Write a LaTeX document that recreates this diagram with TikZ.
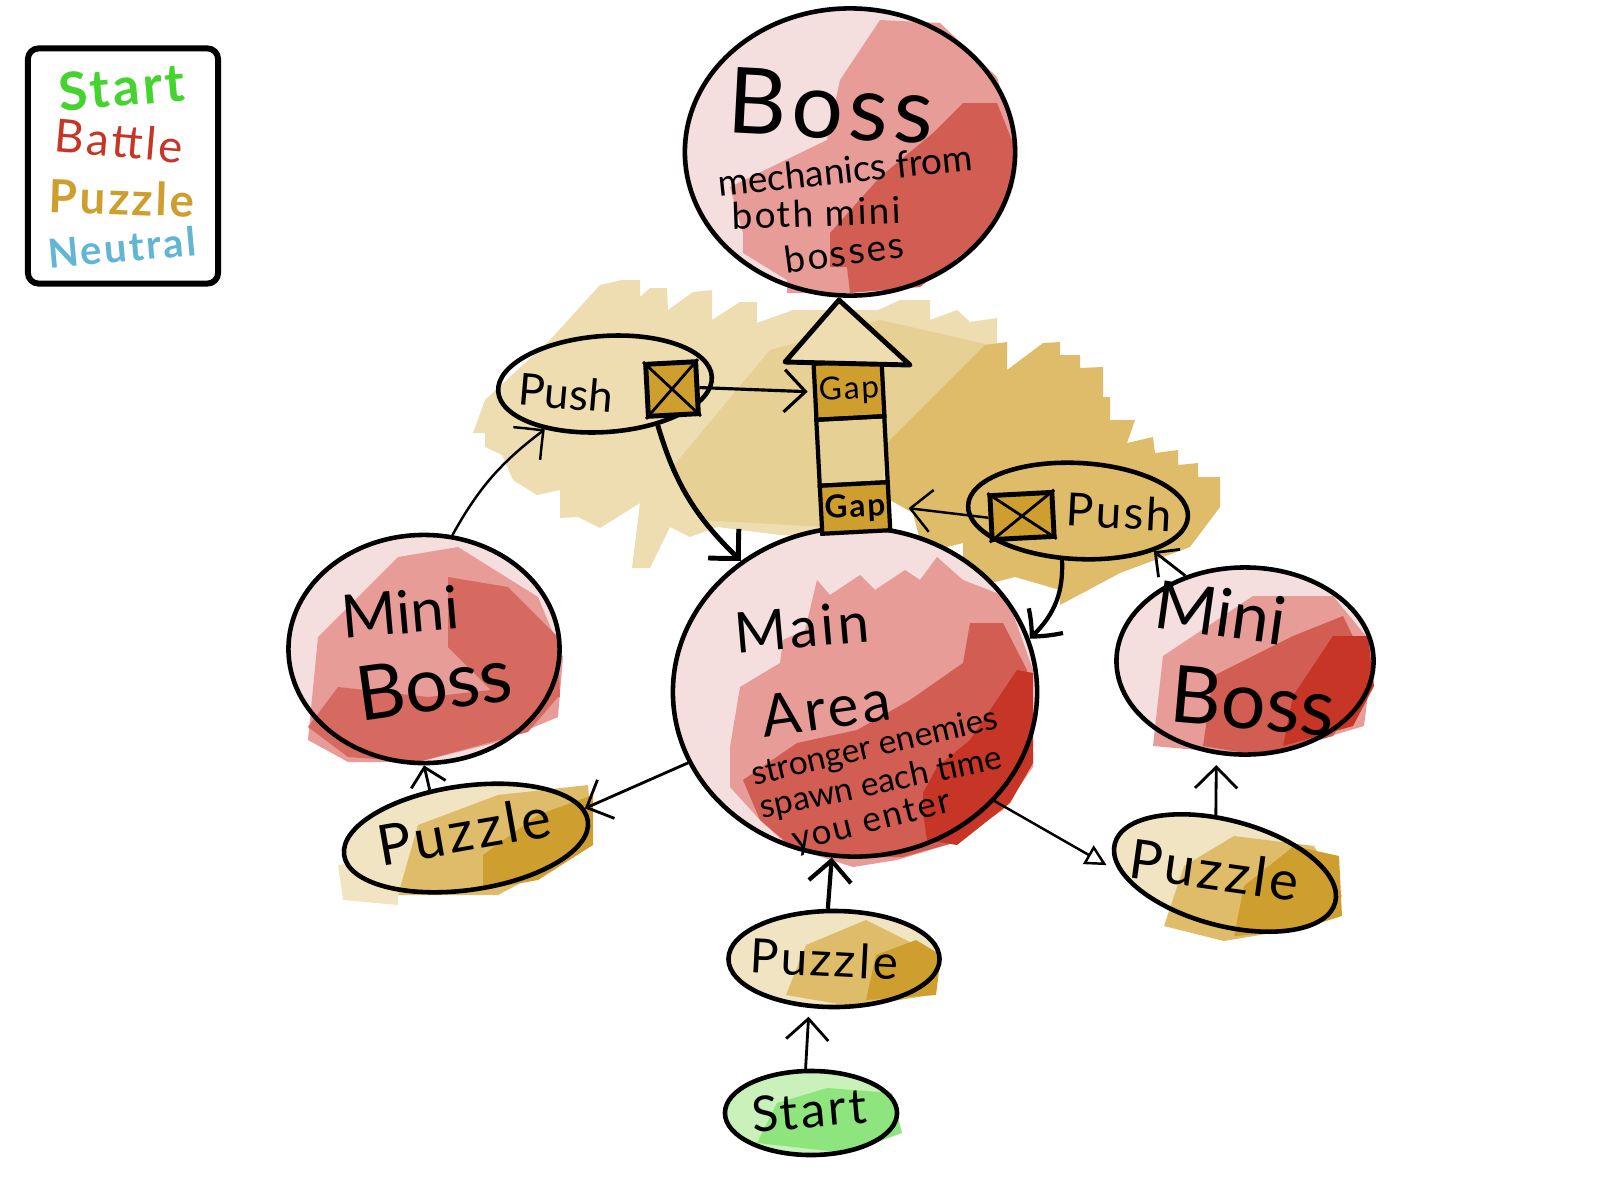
\documentclass[tikz,border=0pt]{standalone}
\usepackage{fontspec}
\setmainfont[LetterSpace=6]{Lato}
\usetikzlibrary{arrows.meta,shapes.geometric,bending}
\definecolor{tanlight}{HTML}{EDDDB0}
\definecolor{tanmid}{HTML}{E7D094}
\definecolor{tandark}{HTML}{DFBC6A}
\definecolor{gold}{HTML}{CE9F2E}
\definecolor{goldbase}{HTML}{F1E4C2}
\definecolor{redbase}{HTML}{F5DEDE}
\definecolor{redmid}{HTML}{E79C98}
\definecolor{reddark}{HTML}{D25D52}
\definecolor{redfull}{HTML}{C63526}
\definecolor{greenbase}{HTML}{C9F1B9}
\definecolor{greenmid}{HTML}{8FE57D}
\newcommand{\handsize}[1]{\fontsize{#1}{#1}\selectfont}
\newcommand{\tightsize}[1]{\fontsize{#1}{#1}\selectfont\addfontfeature{LetterSpace=0}}
\tikzset{
 blob/.style={ellipse,draw,line width=1.3pt,inner sep=0pt},
 lbl/.style={inner sep=0pt,text=black},
 secbox/.style={rectangle,draw,line width=1.2pt,inner sep=0pt,rotate=3},
 xbox/.style={rectangle,draw,line width=1.4pt,fill=gold,inner sep=0pt},
 flow/.style={->,line width=1.2pt},
 thinflow/.style={->,line width=0.7pt},
 >={Straight Barb[length=6pt,width=12pt,bend]}
}
\begin{document}
\begin{tikzpicture}[x=0.01cm,y=-0.01cm]
 \useasboundingbox (0,0) rectangle (1600,1200);

 \fill[tanlight](473,433)--(485,400)--(550,340)--(600,285)--(622,280)--(640,280)--(640,297)--(650,288)--(667,288)--(668,310)--(693,292)--(712,290)--(712,320)--(740,302)--(757,302)--(757,323)--(793,310)--(878,310)--(900,300)--(930,300)--(930,320)--(957,310)--(970,322)--(997,318)--(997,345)--(960,395)--(900,450)--(880,540)--(780,535)--(717,527)--(690,537)--(670,527)--(650,568)--(632,568)--(640,503)--(600,528)--(578,517)--(560,518)--(560,490)--(537,495)--(513,480)--(502,455)--(485,447)--(485,433)--cycle;
 \fill[tanmid](700,520)--(670,470)--(770,350)--(880,320)--(990,345)--(885,450)--(880,530)--cycle;
 \fill[tandark](890,500)--(885,445)--(985,345)--(1007,342)--(1007,370)--(1043,343)--(1060,342)--(1060,355)--(1080,355)--(1080,368)--(1103,367)--(1103,397)--(1110,397)--(1110,420)--(1135,420)--(1127,443)--(1153,437)--(1155,453)--(1178,450)--(1178,465)--(1198,463)--(1198,477)--(1220,477)--(1220,507)--(1190,547)--(1120,573)--(1060,605)--(1060,590)--(1015,577)--(963,590)--(963,543)--(923,553)--(913,513)--cycle;

 \fill[redbase](850,152) ellipse (168 and 146);
 \fill[redmid](743,233)--(730,187)--(827,140)--(840,80)--(880,20)--(940,23)--(997,77)--(1013,133)--(1013,183)--(980,240)--(913,287)--(847,293)--(787,293)--(787,280)--(743,253)--cycle;
 \fill[reddark](830,267)--(830,233)--(880,177)--(933,133)--(963,103)--(997,103)--(1013,143)--(1013,187)--(980,240)--(920,287)--(850,293)--(847,267)--cycle;

 \fill[redbase](855,692) ellipse (182 and 165);
 \fill[redmid](730,747)--(740,687)--(780,663)--(783,640)--(805,630)--(817,580)--(830,595)--(860,575)--(875,590)--(905,570)--(920,580)--(937,557)--(963,580)--(1007,597)--(1033,670)--(1033,767)--(1003,810)--(953,843)--(897,860)--(853,867)--(790,847)--(760,820)--(730,787)--cycle;
 \fill[reddark](760,820)--(743,780)--(797,743)--(857,730)--(910,700)--(963,663)--(970,623)--(1003,623)--(1027,670)--(1033,753)--(1003,807)--(953,843)--(903,857)--(837,857)--(787,843)--cycle;
 \fill[redfull](923,813)--(923,793)--(937,767)--(970,740)--(1017,670)--(1033,673)--(1033,763)--(1010,803)--(957,845)--(927,840)--cycle;

 \fill[redbase](424,649) ellipse (136 and 114);
 \fill[redmid](308,740)--(318,637)--(398,557)--(458,547)--(538,597)--(563,657)--(558,717)--(498,742)--(418,762)--(348,762)--cycle;
 \fill[reddark!80!redmid](448,647)--(448,577)--(508,587)--(558,637)--(560,697)--(498,697)--cycle;
 \fill[reddark!80!redmid](308,727)--(338,687)--(428,697)--(518,687)--(558,697)--(528,732)--(418,762)--(348,757)--cycle;

 \fill[redbase](1245,661) ellipse (129 and 94);
 \fill[redmid](1153,746)--(1163,656)--(1253,596)--(1333,596)--(1374,646)--(1364,726)--(1263,756)--cycle;
 \fill[reddark](1203,746)--(1213,676)--(1293,636)--(1343,616)--(1372,676)--(1333,736)--(1263,756)--cycle;
 \fill[redfull](1283,746)--(1293,696)--(1333,636)--(1368,636)--(1374,686)--(1353,726)--cycle;

 \fill[goldbase,rotate around={8:(466,838)}](466,838) ellipse (124 and 53);
 \fill[tandark](398,895)--(418,825)--(498,795)--(588,785)--(593,845)--(498,895)--cycle;
 \fill[gold](483,890)--(483,855)--(538,815)--(593,795)--(593,845)--(538,880)--cycle;
 \fill[goldbase](338,865)--(398,855)--(398,905)--(343,900)--cycle;

 \fill[goldbase](834,959) ellipse (106 and 48);
 \fill[tandark](786,995)--(806,945)--(866,920)--(936,955)--(931,995)--(856,1007)--cycle;
 \fill[gold](866,1000)--(876,955)--(916,940)--(941,955)--(936,995)--cycle;

 \fill[goldbase,rotate around={-15:(1225,873)}](1225,873) ellipse (114 and 53);
 \fill[tandark](1164,926)--(1184,866)--(1234,836)--(1314,846)--(1342,896)--(1314,926)--(1224,941)--cycle;
 \fill[gold](1234,936)--(1244,886)--(1294,846)--(1339,856)--(1342,916)--(1294,931)--cycle;

 \fill[greenbase](811,1113) ellipse (86 and 42);
 \fill[greenmid](757,1143)--(777,1103)--(827,1088)--(892,1093)--(902,1133)--(847,1153)--cycle;

 \node[blob,minimum width=3.3cm,minimum height=2.87cm] (boss) at (850,152) {};
 \node[blob,minimum width=3.64cm,minimum height=3.29cm] (mainarena) at (855,692) {};
 \node[blob,minimum width=2.71cm,minimum height=2.28cm] (minileft) at (424,649) {};
 \node[blob,minimum width=2.57cm,minimum height=1.87cm] (miniright) at (1245,661) {};
 \node[blob,minimum width=2.14cm,minimum height=0.96cm,rotate=4] (pushleft) at (605,384) {};
 \node[blob,minimum width=2.2cm,minimum height=0.96cm,rotate=-3] (pushright) at (1078,511) {};
 \node[blob,minimum width=2.46cm,minimum height=1.04cm,rotate=8] (puzzleleft) at (466,838) {};
 \node[blob,minimum width=2.11cm,minimum height=0.96cm] (puzzlemid) at (834,959) {};
 \node[blob,minimum width=2.28cm,minimum height=1.05cm,rotate=-15] (puzzleright) at (1225,873) {};
 \node[blob,minimum width=1.72cm,minimum height=0.84cm] (start) at (811,1113) {};
 \node[rectangle,draw,line width=1.7pt,rounded corners=3pt,minimum width=1.9cm,minimum height=2.35cm] (legend) at (123,166) {};

 \node[secbox,fill=gold,minimum width=0.68cm,minimum height=0.56cm] (gapa) at (849,390) {\handsize{9}Gap};
 \node[secbox,minimum width=0.68cm,minimum height=0.66cm] (gapmid) at (852,451) {};
 \node[secbox,fill=gold,minimum width=0.68cm,minimum height=0.48cm] (gapb) at (855,508) {\handsize{9}\bfseries Gap};
 \coordinate (headtip) at (839,300);
 \coordinate (headleft) at (785,362);
 \coordinate (headright) at (910,365);
 \draw[line width=1.4pt,line join=round,fill=tanlight] (headleft)--(headtip)--(headright)--cycle;

 \node[xbox,minimum width=0.5cm,minimum height=0.52cm,rotate=3] (pushboxa) at (672,389) {};
 \draw[line width=0.8pt] (pushboxa.north west)--(pushboxa.south east);
 \draw[line width=0.8pt] (pushboxa.north east)--(pushboxa.south west);
 \node[xbox,minimum width=0.62cm,minimum height=0.44cm,rotate=3] (pushboxb) at (1022,516) {};
 \draw[line width=0.8pt] (pushboxb.north west)--(pushboxb.south east);
 \draw[line width=0.8pt] (pushboxb.north east)--(pushboxb.south west);

 \draw[flow,line width=0.8pt,shorten >=2.5pt] (start.97)--(puzzlemid.243);
 \draw[flow] (puzzlemid.97)--(mainarena.262);
 \draw[flow,line width=0.8pt] (mainarena.203)--(puzzleleft.6);
 \draw[thinflow,-{Triangle[open,length=6pt,width=6pt]},shorten >=4.5pt] (mainarena.-38)--(puzzleright.195);
 \draw[flow,line width=0.8pt,-{Straight Barb[length=5pt,width=10pt]}] (puzzleleft.119)--(minileft.270);
 \draw[flow,line width=0.8pt,shorten >=3pt] (puzzleright.114)--(miniright.253);
 \draw[thinflow] (minileft.76) to[bend left=12] (pushleft.213);
 \draw[flow,line width=0.8pt,-{Straight Barb[length=5pt,width=10pt]}] (miniright.125)--(pushright.-25);
 \draw[flow,line width=1.4pt] (pushleft.-42) to[bend right=15] (mainarena.131);
 \draw[flow] (pushright.255) to[bend left=25] (mainarena.17);
 \draw[flow,line width=0.9pt,shorten >=1.5pt] (pushboxa.east)--(gapa.west);
 \draw[thinflow,shorten >=5pt] (pushboxb.west)--(gapb.east);

 \node[lbl,rotate=-3] (bosstitle) at (831,106) {\handsize{26}Boss};
 \node[lbl,rotate=6] (bossa) at (845,170) {\tightsize{10.5}mechanics from};
 \node[lbl,rotate=2] (bossb) at (816,213) {\handsize{10.5}both mini};
 \node[lbl,rotate=8] (bossc) at (844,252) {\handsize{10.5}bosses};
 \node[lbl,rotate=5] (maintitle) at (802,627) {\handsize{16}Main};
 \node[lbl,rotate=8] (areatitle) at (826,708) {\handsize{16.5}Area};
 \node[lbl,rotate=13] (maina) at (875,748) {\tightsize{9.5}stronger enemies};
 \node[lbl,rotate=12] (mainb) at (881,784) {\tightsize{9.5}spawn each time};
 \node[lbl,rotate=14] (mainc) at (872,823) {\handsize{10}you enter};
 \node[lbl,rotate=5] (minilefta) at (400,612) {\tightsize{17}Mini};
 \node[lbl,rotate=8] (minileftb) at (434,684) {\tightsize{21.5}Boss};
 \node[lbl,rotate=-8] (minirighta) at (1221,612) {\tightsize{19}Mini};
 \node[lbl,rotate=-5] (minirightb) at (1253,701) {\tightsize{22.5}Boss};
 \node[lbl,rotate=-5] (pushlefttxt) at (566,393) {\tightsize{12.5}Push};
 \node[lbl,rotate=-3] (pushrighttxt) at (1119,512) {\handsize{13}Push};
 \node[lbl,rotate=10] (puzzlelefttxt) at (464,831) {\handsize{16}Puzzle};
 \node[lbl,rotate=-3] (puzzlemidtxt) at (824,959) {\handsize{13.5}Puzzle};
 \node[lbl,rotate=-8] (puzzlerighttxt) at (1214,870) {\handsize{15.5}Puzzle};
 \node[lbl,rotate=5] (starttxt) at (809,1110) {\handsize{14}Start};

 \node[lbl,rotate=5,text={rgb,255:red,69;green,211;blue,47}] (keystart) at (122,87) {\handsize{15}\bfseries Start};
 \node[lbl,rotate=-5,text=redfull] (keybattle) at (119,141) {\handsize{13}Battle};
 \node[lbl,rotate=-2,text=gold] (keypuzzle) at (122,198) {\handsize{13}\bfseries Puzzle};
 \node[lbl,rotate=5,text={rgb,255:red,98;green,182;blue,211}] (keyneutral) at (122,247) {\handsize{11.4}\bfseries Neutral};
\end{tikzpicture}
\end{document}
